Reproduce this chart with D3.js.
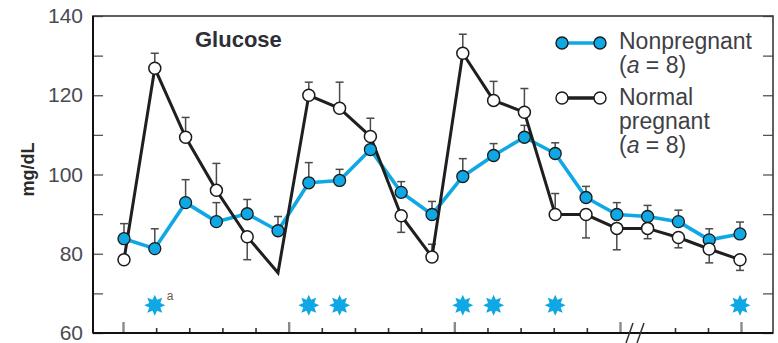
<!DOCTYPE html>
<html>
<head>
<meta charset="utf-8">
<script src="https://cdn.jsdelivr.net/npm/d3@7/dist/d3.min.js"></script>
<style>
  html, body { margin: 0; padding: 0; background: #fff; }
  svg { display: block; font-family: "Liberation Sans", Arial, Helvetica, sans-serif; }
</style>
</head>
<body>
<svg id="chart" width="778" height="343"></svg>
<script>
// Plasma glucose (mg/dL) at 21 sampling times over the day
const sampleIndex = d3.range(21);

const nonpregnant = [83.8, 81.3, 92.9, 88.1, 90.1, 85.8, 97.9, 98.5, 106.3, 95.5, 89.9,
                     99.5, 104.8, 109.4, 105.3, 94.2, 89.9, 89.4, 88.1, 83.5, 85.0];
// end value of each error bar (above or below the mean)
const nonpregnantErr = [87.6, 86.3, 98.7, 92.9, 93.7, 89.4, 103.0, 101.3, 109.0, 98.2, 93.2,
                        104.0, 107.8, 112.4, 108.0, 97.0, 92.9, 92.2, 91.0, 86.3, 88.0];

const pregnant = [78.5, 126.8, 109.4, 96.0, 84.3, 75.2, 120.0, 116.7, 109.6, 89.6, 79.2,
                  130.6, 118.7, 115.7, 89.9, 89.9, 86.4, 86.4, 84.1, 81.2, 78.5];
const pregnantErr = [null, 130.6, 114.4, 102.8, 78.5, null, 123.3, 123.3, 114.2, 85.4, 82.4,
                     135.4, 123.5, 121.7, 95.2, 84.0, 81.0, 83.8, 81.5, 77.7, 75.8];
// sampling points drawn without an open circle
const pregnantNoMarker = [5];

// sampling points with a significant difference
const significant = [1, 6, 7, 11, 12, 14, 20];

// y axis
const yTicks = d3.range(60, 141, 10);
const yLabels = [60, 80, 100, 120, 140];

// time axis ticks (hours); axis is broken between 15 and 16
const timeTicks = d3.range(0, 16).concat([16, 17, 18]);
const majorTimeTicks = [0, 5, 10, 15, 18];

const legendItems = [
  { name: "Nonpregnant", n: 8, key: "np" },
  { name: "Normal|pregnant", n: 8, key: "p" }
];

const BLUE = "#0fa8e4";
const DARK = "#1f1f1f";
const TEXT = "#3f3f46";

const svg = d3.select("#chart");
const M = { left: 93, right: 773, top: 16, bottom: 333 };

const y = d3.scaleLinear().domain([60, 140]).range([M.bottom, M.top]);
const x = d3.scaleLinear().domain([0, 20]).range([124, 740]);
const xt = d3.scaleLinear().domain([0, 15, 16, 18]).range([123, 620, 675, 741]);

svg.append("rect").attr("width", 778).attr("height", 343).attr("fill", "#fff");

// left axis
const yAxisL = svg.append("g")
  .attr("transform", `translate(${M.left},0)`)
  .call(d3.axisLeft(y).tickValues(yTicks).tickSize(-10).tickPadding(10)
    .tickFormat(d => yLabels.includes(d) ? d : ""));
yAxisL.select(".domain").remove();
yAxisL.selectAll(".tick line").attr("stroke", "#555").attr("stroke-width", 1.3);
yAxisL.selectAll(".tick text")
  .attr("font-size", 21).attr("fill", "#4a4a52")
  .attr("font-family", "Liberation Sans, Arial, sans-serif");

// right axis
const yAxisR = svg.append("g")
  .attr("transform", `translate(${M.right},0)`)
  .call(d3.axisRight(y).tickValues(yTicks).tickSize(-10).tickFormat(""));
yAxisR.select(".domain").remove();
yAxisR.selectAll(".tick line").attr("stroke", "#555").attr("stroke-width", 1.3);

// bottom time axis
const xAxis = svg.append("g")
  .attr("transform", `translate(0,${M.bottom})`)
  .call(d3.axisBottom(xt).tickValues(timeTicks).tickSize(-5).tickFormat(""));
xAxis.select(".domain").remove();
xAxis.selectAll(".tick line")
  .attr("stroke", d => majorTimeTicks.includes(d) ? "#8a8a8a" : "#333")
  .attr("stroke-width", d => majorTimeTicks.includes(d) ? 2.4 : 1.6)
  .attr("y2", d => majorTimeTicks.includes(d) ? -11 : -5);

// frame
svg.append("rect")
  .attr("x", M.left).attr("y", M.top)
  .attr("width", M.right - M.left).attr("height", M.bottom - M.top)
  .attr("fill", "none").attr("stroke", "#3a3a3a").attr("stroke-width", 1.6);
svg.append("line").attr("x1", M.left).attr("x2", M.left).attr("y1", M.top).attr("y2", M.bottom)
  .attr("stroke", "#111").attr("stroke-width", 2);
svg.append("line").attr("x1", M.left).attr("x2", M.right).attr("y1", M.bottom).attr("y2", M.bottom)
  .attr("stroke", "#111").attr("stroke-width", 2);

// axis break marks
const bx = xt(15) + 9;
[0, 11].forEach(off => {
  svg.append("line")
    .attr("x1", bx + off + 4).attr("y1", M.bottom - 10)
    .attr("x2", bx + off - 3).attr("y2", M.bottom + 10)
    .attr("stroke", "#333").attr("stroke-width", 1.5);
});

// y title
svg.append("text")
  .attr("transform", `translate(34,${y(100) - 5}) rotate(-90)`)
  .attr("text-anchor", "middle")
  .attr("font-size", 18).attr("font-weight", "bold").attr("fill", "#2a2a2a")
  .text("mg/dL");

// panel title
svg.append("text")
  .attr("x", 195).attr("y", 47)
  .attr("font-size", 22).attr("font-weight", "bold").attr("fill", "#2e2e36")
  .text("Glucose");

// error bars
function errorBars(values, ends, cls) {
  const g = svg.append("g").attr("class", cls)
    .attr("stroke", "#4a4a4a").attr("stroke-width", 1.5).attr("fill", "none");
  sampleIndex.forEach(i => {
    if (ends[i] == null) return;
    const cx = x(i);
    g.append("line").attr("x1", cx).attr("x2", cx)
      .attr("y1", y(values[i])).attr("y2", y(ends[i]));
    g.append("line").attr("x1", cx - 4).attr("x2", cx + 4)
      .attr("y1", y(ends[i])).attr("y2", y(ends[i]));
  });
}
errorBars(nonpregnant, nonpregnantErr, "err-np");
errorBars(pregnant, pregnantErr, "err-p");

const line = d3.line().x((d, i) => x(i)).y(d => y(d));

svg.append("path").datum(nonpregnant)
  .attr("d", line).attr("fill", "none")
  .attr("stroke", BLUE).attr("stroke-width", 3.6).attr("stroke-linejoin", "round");

svg.append("path").datum(pregnant)
  .attr("d", line).attr("fill", "none")
  .attr("stroke", DARK).attr("stroke-width", 3).attr("stroke-linejoin", "miter");

svg.append("g").selectAll("circle")
  .data(nonpregnant).join("circle")
  .attr("cx", (d, i) => x(i)).attr("cy", d => y(d)).attr("r", 6)
  .attr("fill", BLUE).attr("stroke", "#1a1a1a").attr("stroke-width", 1.3);

svg.append("g").selectAll("circle")
  .data(pregnant.map((v, i) => ({ v, i })).filter(d => !pregnantNoMarker.includes(d.i)))
  .join("circle")
  .attr("cx", d => x(d.i)).attr("cy", d => y(d.v)).attr("r", 6)
  .attr("fill", "#fff").attr("stroke", "#1a1a1a").attr("stroke-width", 1.5);

// significance stars (8-pointed)
function starPath(rOuter, rInner, n) {
  const pts = d3.range(n * 2).map(k => {
    const a = (k * Math.PI) / n - Math.PI / 2;
    const r = k % 2 === 0 ? rOuter : rInner;
    return [r * Math.cos(a), r * Math.sin(a)];
  });
  return d3.line().curve(d3.curveLinearClosed)(pts);
}
const star = starPath(10.5, 6, 8);
svg.append("g").selectAll("path")
  .data(significant).join("path")
  .attr("transform", i => `translate(${x(i)},${y(67)})`)
  .attr("d", star).attr("fill", BLUE);

svg.append("text")
  .attr("x", x(significant[0]) + 12).attr("y", y(67) - 5)
  .attr("font-size", 12).attr("fill", "#6a5a4a")
  .text("a");

// legend
const lg = svg.append("g");
const legendRows = [
  { key: "np", lineY: 43, lines: [49, 73] },
  { key: "p", lineY: 98, lines: [105, 129, 153] }
];
legendItems.forEach((item, k) => {
  const row = legendRows[k];
  const isNp = item.key === "np";
  lg.append("line").attr("x1", 562).attr("x2", 600)
    .attr("y1", row.lineY).attr("y2", row.lineY)
    .attr("stroke", isNp ? BLUE : DARK).attr("stroke-width", isNp ? 3.6 : 3.4);
  [562, 600].forEach(cx => {
    lg.append("circle").attr("cx", cx).attr("cy", row.lineY).attr("r", 6)
      .attr("fill", isNp ? BLUE : "#fff").attr("stroke", "#1a1a1a").attr("stroke-width", 1.4);
  });
  const words = item.name.split("|");
  words.forEach((w, j) => {
    lg.append("text").attr("x", 619).attr("y", row.lines[j])
      .attr("font-size", 23).attr("fill", TEXT).text(w);
  });
  const t = lg.append("text").attr("x", 619).attr("y", row.lines[words.length])
    .attr("font-size", 23).attr("fill", TEXT);
  t.append("tspan").text("(");
  t.append("tspan").attr("font-style", "italic").text("a");
  t.append("tspan").text(` = ${item.n})`);
});
</script>
</body>
</html>
